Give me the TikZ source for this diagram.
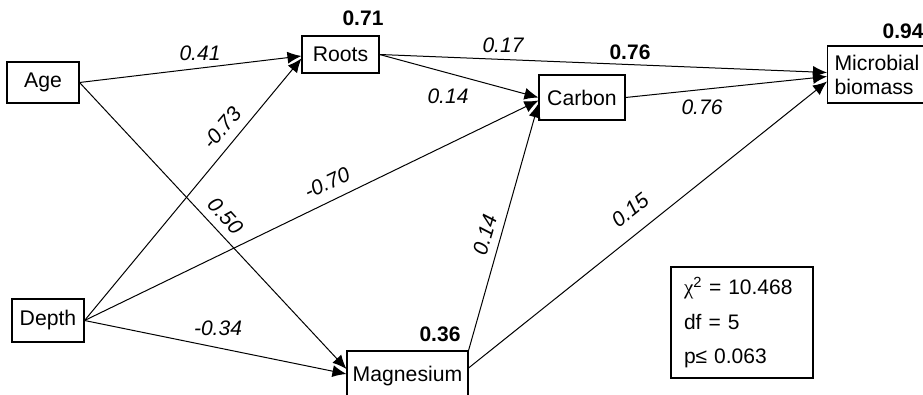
\documentclass[tikz,border=0pt]{standalone}
\usepackage{fontspec}
\setmainfont{Liberation Sans}
\newfontfamily\grk{Liberation Serif}
\usetikzlibrary{arrows.meta,calc}
\begin{document}
\begin{tikzpicture}[x=1pt,y=-1pt,
  box/.style={draw, line width=1.1pt, inner sep=0pt, font=\fontsize{21.2}{24}\selectfont},
  lbl/.style={font=\fontsize{21}{24}\selectfont\itshape, inner sep=0pt},
  rsq/.style={font=\fontsize{21}{24}\selectfont\bfseries, inner sep=0pt},
  conn/.style={draw, line width=1pt, -{Latex[length=14pt,width=12pt]}}
]
\useasboundingbox (0,0) rectangle (923,395);
\clip (0,0) rectangle (923,395);
% boxes
\node[box, minimum width=72, minimum height=41] (age) at (43,82.5) {Age};
\node[box, minimum width=77, minimum height=37] (roots) at (340.5,54.5) {Roots};
\node[box, minimum width=86, minimum height=45] (carbon) at (582,97.5) {Carbon};
\node[box, minimum height=57, text width=89, inner xsep=7, align=left, anchor=west] (micro) at (827,74.5) {Microbial\\biomass};
\node[box, minimum width=72, minimum height=43] (depth) at (48,320.5) {Depth};
\node[box, minimum width=121, minimum height=50] (mg) at (407.5,376) {Magnesium};
\node[box, minimum height=111, text width=116, inner xsep=13, align=left, font=\fontsize{21}{34.5}\selectfont] (stats) at (742,322.5)
  {{\grk χ}\textsuperscript{2} = 10.468\\df = 5\\p≤ 0.063};
% R-squared values
\node[rsq] (r2roots) at (363,18.5) {0.71};
\node[rsq] (r2carbon) at (630,52) {0.76};
\node[rsq] (r2micro) at (903,31) {0.94};
\node[rsq] (r2mg) at (440,334) {0.36};
% connectors
\draw[conn] (age.east) -- ($(roots.west)+(0,1.5)$);
\draw[conn] (age.east) -- ($(mg.west)+(0,-7)$);
\draw[conn] (depth.east) -- ($(roots.west)+(0,4)$);
\draw[conn] (depth.east) -- ($(carbon.west)+(0,3)$);
\draw[conn] (depth.east) -- ($(mg.west)+(0,-2)$);
\draw[conn] (roots.east) -- (carbon.west);
\draw[conn] (roots.east) -- ($(micro.west)+(0,-2)$);
\draw[conn] (carbon.east) -- ($(micro.west)+(0,2)$);
\draw[conn] (mg.north east) -- ($(carbon.west)+(0,6)$);
\draw[conn] ($(mg.east)+(0,-8)$) -- ($(micro.west)+(0,7)$);
% path coefficients
\node[lbl] (l1) at (200,53.5) {0.41};
\node[lbl] (l2) at (503,45) {0.17};
\node[lbl] (l3) at (448,96) {0.14};
\node[lbl] (l4) at (702,107.5) {0.76};
\node[lbl] (l5) at (218,328) {-0.34};
\node[lbl, rotate=50] (l6) at (222,128) {-0.73};
\node[lbl, rotate=-47.3] (l7) at (226,216) {0.50};
\node[lbl, rotate=25.5] (l8) at (327,183) {-0.70};
\node[lbl, rotate=73.7] (l9) at (485,235) {0.14};
\node[lbl, rotate=38.7] (l10) at (630,210) {0.15};
\end{tikzpicture}
\end{document}
